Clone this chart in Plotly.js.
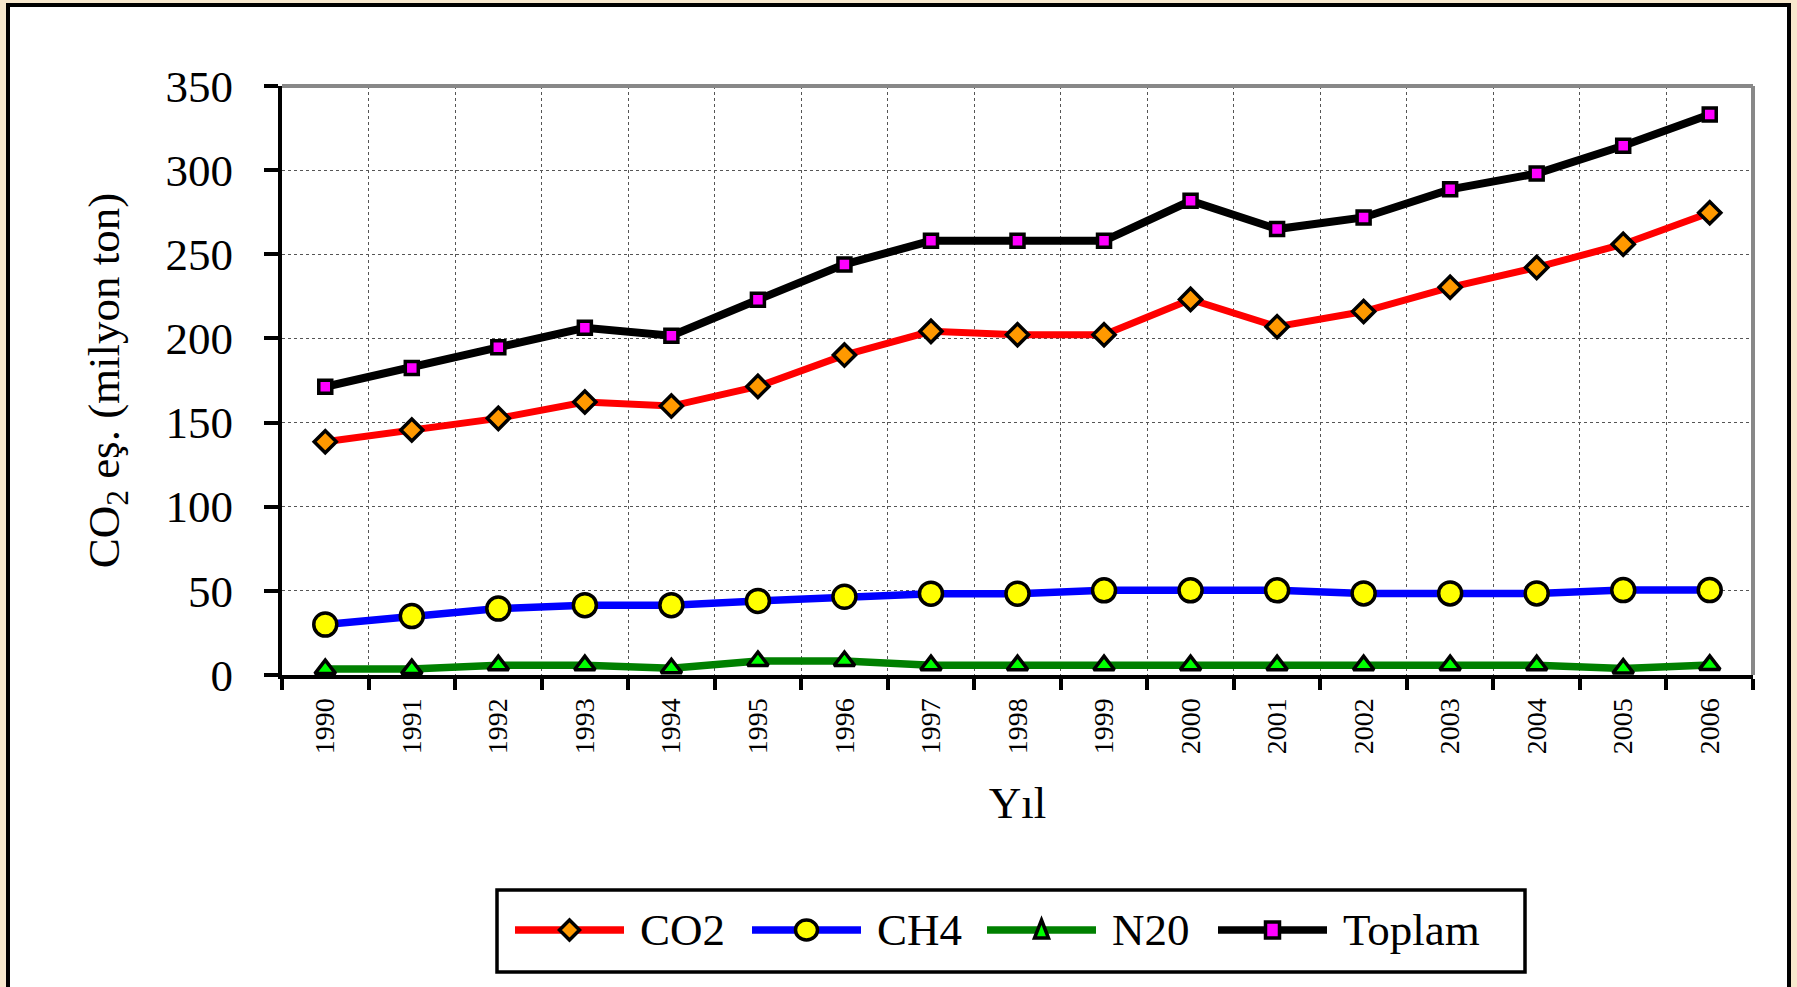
<!DOCTYPE html>
<html>
<head>
<meta charset="utf-8">
<script src="https://cdn.plot.ly/plotly-3.0.1.min.js"></script>
<style>
  html, body { margin:0; padding:0; }
  body { width:1797px; height:987px; overflow:hidden; background:#f7e8cd; position:relative; }
  #frame { position:absolute; left:6px; top:3px; width:1777px; height:1100px; border:4px solid #000; background:#fff; }
  #chart { position:absolute; left:0; top:0; width:1797px; height:987px; }
</style>
</head>
<body>
<div id="frame"></div>
<div id="chart"></div>
<script>
// ---- data ----
const years = ['1990','1991','1992','1993','1994','1995','1996','1997','1998','1999','2000','2001','2002','2003','2004','2005','2006'];
const co2    = [138.6, 145.6, 152.5, 162.2, 159.8, 171.5, 190.1, 204.2, 202.2, 202.2, 223.2, 207.0, 216.0, 230.4, 242.2, 256.0, 274.7];
const ch4    = [30.0, 35.0, 39.5, 41.5, 41.5, 44.0, 46.5, 48.3, 48.3, 50.3, 50.3, 50.3, 48.5, 48.5, 48.5, 50.5, 50.5];
const n2o    = [3.5, 3.5, 5.8, 5.8, 4.0, 8.3, 8.3, 5.8, 5.8, 5.8, 5.8, 5.8, 5.8, 5.8, 5.8, 3.8, 6.0];
const toplam = [171.3, 182.5, 194.7, 206.3, 201.6, 223.0, 244.0, 258.0, 258.0, 258.0, 281.8, 265.0, 271.9, 288.6, 298.0, 314.5, 333.1];
const seriesNames = ['CO2', 'CH4', 'N20', 'Toplam'];
const yTitle = 'CO<sub>2</sub> eş. (milyon ton)';
const xTitle = 'Yıl';

// ---- styles ----
const FONT = 'Liberation Serif, Times New Roman, serif';
const styles = [
  {line:'#ff0000', lw:7,   sym:'diamond',     fill:'#ff9900', size:17},
  {line:'#0000ff', lw:7.5, sym:'circle',      fill:'#ffff00', size:23},
  {line:'#008000', lw:7.5, sym:'triangle-up', fill:'#00ff00', size:18},
  {line:'#000000', lw:8,   sym:'square',      fill:'#ff00ff', size:13}
];
const values = [co2, ch4, n2o, toplam];

const traces = values.map((v, i) => ({
  type:'scatter', mode:'lines+markers', x:years, y:v, name:seriesNames[i],
  showlegend:false,
  line:{color:styles[i].line, width:styles[i].lw},
  marker:{symbol:styles[i].sym, color:styles[i].fill, size:styles[i].size, line:{color:'#000', width:3.5}}
}));

// plot area in pixels
const PL = 282, PR = 1753, PT = 86, PB = 675;
const W = 1797, H = 987;
const px = x => (x - PL) / (PR - PL);
const py = y => (PB - y) / (PB - PT);

// ---- custom legend ----
const shapes = [
  {type:'line', xref:'paper', yref:'paper', x0:0, x1:1, y0:1, y1:1, line:{color:'#888', width:4}},
  {type:'line', xref:'paper', yref:'paper', x0:1, x1:1, y0:0, y1:1, line:{color:'#888', width:4}},
  {type:'rect', xref:'paper', yref:'paper', x0:px(497), x1:px(1525), y0:py(972), y1:py(890), line:{color:'#000', width:3.5}, fillcolor:'#fff'}
];
const annotations = [];
const legStarts = [515, 752, 987, 1218];
const LEGY = 930, LEGLEN = 109;
legStarts.forEach((x0, i) => {
  const s = styles[i];
  shapes.push({type:'line', xref:'paper', yref:'paper', x0:px(x0), x1:px(x0 + LEGLEN), y0:py(LEGY), y1:py(LEGY), line:{color:s.line, width:7.5}});
  const cx = x0 + LEGLEN / 2, cy = LEGY;
  let path;
  if (s.sym === 'diamond') {
    const r = 10;
    path = `M${px(cx)},${py(cy-r)} L${px(cx+r)},${py(cy)} L${px(cx)},${py(cy+r)} L${px(cx-r)},${py(cy)} Z`;
    shapes.push({type:'path', xref:'paper', yref:'paper', path, fillcolor:s.fill, line:{color:'#000', width:3.5}});
  } else if (s.sym === 'circle') {
    shapes.push({type:'circle', xref:'paper', yref:'paper', x0:px(cx-11), x1:px(cx+11), y0:py(cy+10), y1:py(cy-10), fillcolor:s.fill, line:{color:'#000', width:3.5}});
  } else if (s.sym === 'triangle-up') {
    path = `M${px(cx)},${py(cy-10)} L${px(cx+7)},${py(cy+8)} L${px(cx-7)},${py(cy+8)} Z`;
    shapes.push({type:'path', xref:'paper', yref:'paper', path, fillcolor:s.fill, line:{color:'#000', width:3.5}});
  } else {
    shapes.push({type:'rect', xref:'paper', yref:'paper', x0:px(cx-7), x1:px(cx+7), y0:py(cy+8), y1:py(cy-8), fillcolor:s.fill, line:{color:'#000', width:3.5}});
  }
  annotations.push({xref:'paper', yref:'paper', x:px(x0 + LEGLEN + 14), y:py(LEGY), xanchor:'left', yanchor:'middle',
    text:seriesNames[i], showarrow:false, font:{family:FONT, size:45, color:'#000'}});
});

const layout = {
  width:W, height:H,
  margin:{l:PL, r:W-PR, t:PT, b:H-PB, pad:0},
  paper_bgcolor:'rgba(0,0,0,0)', plot_bgcolor:'#fff',
  font:{family:FONT, color:'#000'},
  showlegend:false,
  xaxis:{
    type:'category', range:[-0.5, 16.5], tickson:'boundaries',
    ticks:'outside', ticklen:11, tickwidth:4, tickcolor:'#000',
    showline:true, linecolor:'#000', linewidth:4,
    showgrid:true, gridcolor:'#555', gridwidth:1, griddash:'dot',
    tickangle:-90, tickfont:{family:FONT, size:28, color:'#000'}, ticklabelstandoff:8,
    zeroline:false, automargin:false,
    title:{text:xTitle, font:{family:FONT, size:45, color:'#000'}, standoff:34}
  },
  yaxis:{
    range:[0, 350], dtick:50, tick0:0,
    ticks:'outside', ticklen:14, tickwidth:4, tickcolor:'#000',
    showline:true, linecolor:'#000', linewidth:4,
    showgrid:true, gridcolor:'#555', gridwidth:1, griddash:'dot',
    tickfont:{family:FONT, size:45, color:'#000'}, ticklabelstandoff:22,
    zeroline:false, automargin:false,
    title:{text:yTitle, font:{family:FONT, size:45, color:'#000'}, standoff:33}
  },
  shapes, annotations
};

Plotly.newPlot('chart', traces, layout, {staticPlot:true, displayModeBar:false});
</script>
</body>
</html>
